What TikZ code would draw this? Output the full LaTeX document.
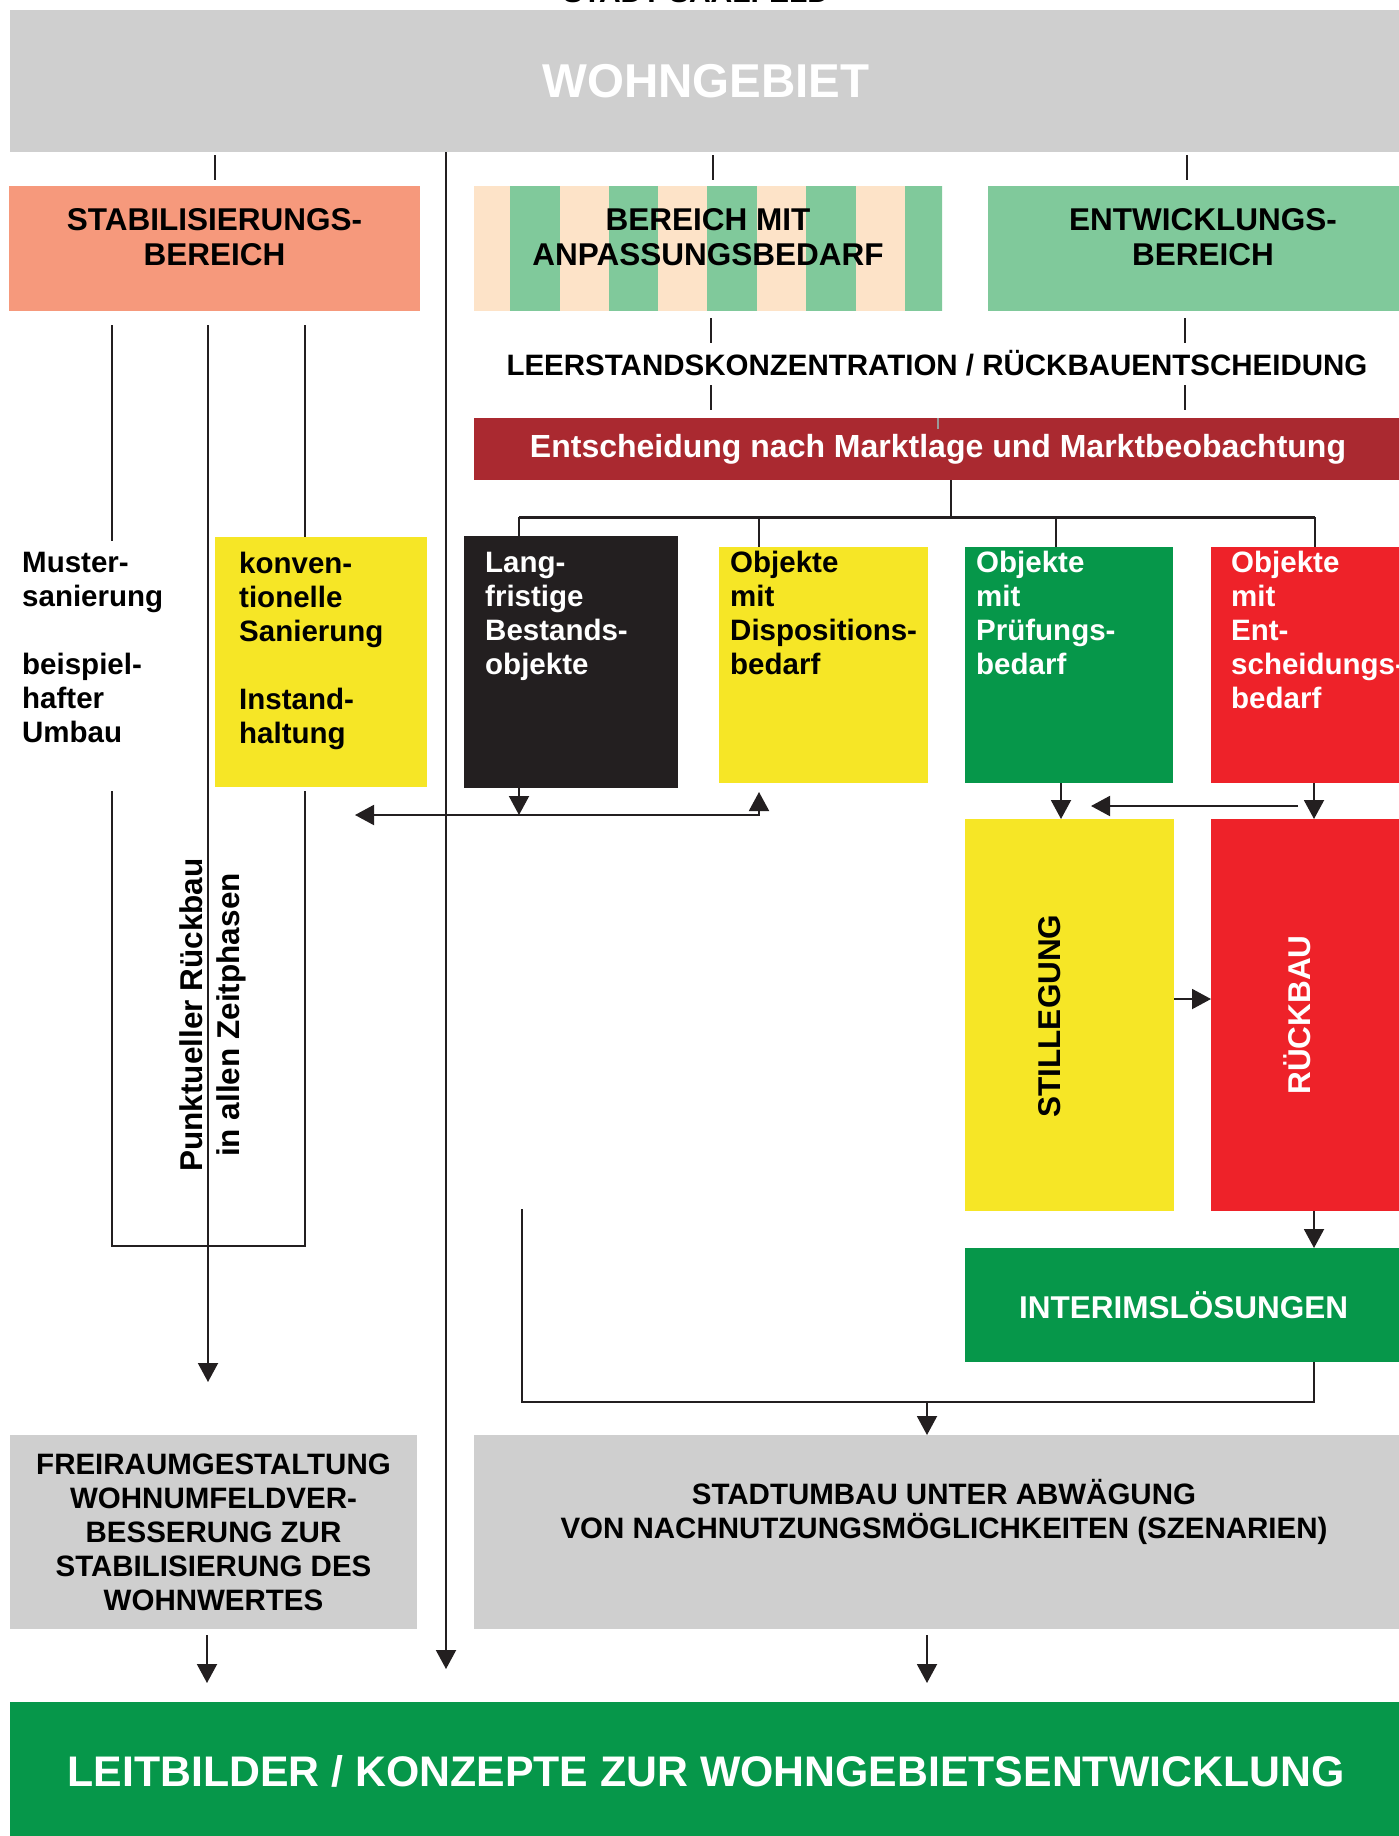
\documentclass[tikz,border=0pt]{standalone}
\usepackage{fontspec}
\setmainfont{Liberation Sans}
\usepackage{tikz}
\usetikzlibrary{arrows.meta,positioning}
\definecolor{panelgrey}{HTML}{CFCFCF}
\definecolor{salmonbrand}{HTML}{F6997C}
\definecolor{peachbrand}{HTML}{FDE3C8}
\definecolor{mintbrand}{HTML}{80C99B}
\definecolor{winebrand}{HTML}{AA2930}
\definecolor{lemonbrand}{HTML}{F6E626}
\definecolor{forestbrand}{HTML}{06974A}
\definecolor{signalred}{HTML}{EE2229}
\definecolor{inkbrand}{HTML}{231F20}

\begin{document}
\begin{tikzpicture}[
  x=1pt, y=1pt,
  font=\bfseries,
  panel/.style={inner sep=0pt, outer sep=0pt, align=center},
  headfont/.style={font=\fontsize{31.5}{35}\selectfont\bfseries},
  bodyfont/.style={font=\fontsize{29.5}{34}\selectfont\bfseries},
  bodytext/.style={bodyfont, inner sep=0pt, anchor=north west, align=left},
  upright/.style={font=\fontsize{31.5}{37}\selectfont\bfseries, inner sep=0pt,
    rotate=90, align=center},
  link/.style={draw=inkbrand, line width=2pt},
  flow/.style={link, -{Triangle[length=19pt, width=20pt]}},
  stub/.style={link, shorten <=3pt, shorten >=6pt}
]
\useasboundingbox (0,0) rectangle (1398,-1836);

% top band
\node[anchor=base, inner sep=0pt, font=\fontsize{30}{34}\selectfont\bfseries] (stadtname) at (696,-3) {STADT SAALFELD};
\node[panel, fill=panelgrey, minimum width=1392pt, minimum height=142pt, text=white,
  font=\fontsize{47.5}{50}\selectfont\bfseries] (wohn) at (706,-81) {WOHNGEBIET};

% three areas
\node[panel, fill=salmonbrand, minimum width=411pt, minimum height=125pt] (stab) at (214.5,-248.5) {};
\node[panel, fill=peachbrand, minimum width=468pt, minimum height=125pt, right=54pt of stab,
  path picture={\foreach \k in {0,...,4}
    \fill[mintbrand] ([xshift={36pt+\k*98.7pt}]path picture bounding box.north west) rectangle ++(49.5,-125);}] (anp) {};
\node[panel, fill=mintbrand, minimum width=414pt, minimum height=125pt, right=46pt of anp] (entw) {};
\node[panel, headfont] (stabtext) at ([yshift=11pt]stab.center) {STABILISIERUNGS-\\BEREICH};
\node[panel, headfont] (anptext) at ([yshift=11pt]anp.center) {BEREICH MIT\\ANPASSUNGSBEDARF};
\node[panel, headfont] (entwtext) at ([xshift=8pt,yshift=11pt]entw.center) {ENTWICKLUNGS-\\BEREICH};

\node[panel, bodyfont] (leer) at (937,-363) {LEERSTANDSKONZENTRATION / RÜCKBAUENTSCHEIDUNG};
\node[panel, fill=winebrand, text=white, minimum width=928pt, minimum height=62pt,
  font=\fontsize{32}{36}\selectfont\bfseries] (markt) at (938,-449) {Entscheidung nach Marktlage und Marktbeobachtung};

% object groups
\node[bodytext] (muster) at (22,-552) {Muster-\\sanierung\\[34pt]beispiel-\\hafter\\Umbau};
\node[panel, fill=lemonbrand, minimum width=212pt, minimum height=250pt] (konv) at (321,-662) {};
\node[bodytext] (konvtext) at (239,-552) {konven-\\tionelle\\Sanierung\\[34pt]Instand-\\haltung};
\node[panel, fill=inkbrand, minimum width=214pt, minimum height=252pt] (lang) at (571,-662) {};
\node[bodytext, text=white] (langtext) at (485,-552) {Lang-\\fristige\\Bestands-\\objekte};
\node[panel, fill=lemonbrand, minimum width=209pt, minimum height=236pt] (disp) at (823.5,-665) {};
\node[panel, fill=forestbrand, minimum width=208pt, minimum height=236pt, right=37pt of disp] (pruef) {};
\node[panel, fill=signalred, minimum width=191pt, minimum height=236pt, right=38pt of pruef] (ents) {};
\node[bodytext] (disptext) at (730,-551) {Objekte\\mit\\Dispositions-\\bedarf};
\node[bodytext, text=white] (prueftext) at (976,-551) {Objekte\\mit\\Prüfungs-\\bedarf};
\node[bodytext, text=white] (entstext) at (1231,-551) {Objekte\\mit\\Ent-\\scheidungs-\\bedarf};

% measures
\node[panel, fill=lemonbrand, minimum width=209pt, minimum height=392pt] (still) at (1069.5,-1015) {};
\node[panel, fill=signalred, minimum width=191pt, minimum height=392pt, right=37pt of still] (rueck) {};
\node[upright] (stilltext) at (1050,-1016) {STILLEGUNG};
\node[upright, text=white] (rueckdtext) at (1297,-1015) {RÜCKBAU};
\node[upright] (punkt) at (213,-1015) {Punktueller Rückbau\\in allen Zeitphasen};
\node[panel, fill=forestbrand, text=white, minimum width=437pt, minimum height=114pt,
  font=\fontsize{31.5}{35}\selectfont\bfseries] (inter) at (1183.5,-1305) {INTERIMSLÖSUNGEN};

% results
\node[panel, fill=panelgrey, bodyfont, minimum width=407pt, minimum height=194pt] (frei) at (213.5,-1532)
  {FREIRAUMGESTALTUNG\\WOHNUMFELDVER-\\BESSERUNG ZUR\\STABILISIERUNG DES\\WOHNWERTES};
\node[panel, fill=panelgrey, minimum width=928pt, minimum height=194pt] (stadt) at (938,-1532) {};
\node[panel, bodyfont] (stadttext) at (944,-1512) {STADTUMBAU UNTER ABWÄGUNG\\VON NACHNUTZUNGSMÖGLICHKEITEN (SZENARIEN)};
\node[panel, fill=forestbrand, text=white, minimum width=1392pt, minimum height=138pt,
  font=\fontsize{42.8}{46}\selectfont\bfseries] (leit) at (706,-1771) {LEITBILDER / KONZEPTE ZUR WOHNGEBIETSENTWICKLUNG};

\coordinate (colA) at (112,0);
\coordinate (colB) at (208,0);
\coordinate (colC) at (305,0);
\coordinate (trunk) at (446,0);
\coordinate (bar) at (0,-517);
\coordinate (hline) at (355,-815);
\coordinate (ubase) at (0,-1246);
\coordinate (brk) at (522,-1209);
\coordinate (brkbase) at (0,-1402);

% connectors
\foreach \n/\dx in {stab/0, anp/5, entw/-8}
  \draw[stub] ([xshift=\dx pt]wohn.south -| \n.north) -- ([xshift=\dx pt]\n.north);
\draw[flow, shorten >=33pt] (wohn.south -| trunk) -- (trunk |- leit.north);
\foreach \n/\dx in {anp/3, entw/-10} {
  \draw[link, shorten <=7pt, shorten >=20pt] ([xshift=\dx pt]\n.south) -- ([xshift=\dx pt]\n.south |- leer.center);
  \draw[link, shorten <=22pt, shorten >=8pt] ([xshift=\dx pt]\n.south |- leer.center) -- ([xshift=\dx pt]\n.south |- markt.north);
}
\draw[draw=black!40, line width=1.2pt] (markt.north) -- ++(0,-11);
\draw[link] ([xshift=13pt]markt.south) -- ([xshift=13pt]markt.south |- bar);
\draw[link, line width=3pt] ([xshift=-52pt]lang.north |- bar) -- ([xshift=8.5pt]ents.north |- bar);
\foreach \n/\dx in {lang/-52, disp/-64.5, pruef/-13, ents/8.5}
  \draw[link] ([xshift=\dx pt]\n.north |- bar) -- ([xshift=\dx pt]\n.north);

\draw[link, shorten <=14pt, shorten >=11pt] (stab.south -| colA) -- (colA |- muster.north);
\draw[flow, shorten <=14pt, shorten >=53pt] (stab.south -| colB) -- (colB |- frei.north);
\draw[link, shorten <=14pt] (stab.south -| colC) -- (colC |- konv.north);
\draw[link] ([yshift=-4pt]konv.south -| colA) -- (colA |- ubase) -| ([yshift=-4pt]konv.south -| colC);

\draw[flow] ([xshift=-52pt]lang.south) -- ([xshift=-52pt]lang.south |- hline);
\draw[link, {Triangle[length=19pt, width=20pt]}-{Triangle[length=19pt, width=20pt]}, shorten >=9pt]
  (hline) -| ([xshift=-64.5pt]disp.south);
\draw[flow] ([xshift=-8pt]pruef.south) -- ([xshift=-8pt]pruef.south |- still.north);
\draw[flow] ([xshift=7.5pt]ents.south) -- ([xshift=7.5pt]ents.south |- rueck.north);
\draw[flow] ([shift={(87,13)}]rueck.north west) -- ([shift={(-83,13)}]still.north east);
\draw[flow] ([yshift=16pt]still.east) -- ([yshift=16pt]rueck.west);
\draw[flow] ([xshift=7.5pt]rueck.south) -- ([xshift=7.5pt]rueck.south |- inter.north);
\draw[link] ([xshift=130.5pt]inter.south) -- ([xshift=130.5pt]inter.south |- brkbase) -| (brk);
\draw[flow] ([xshift=-11pt]stadt.north |- brkbase) -- ([xshift=-11pt]stadt.north);
\draw[flow, shorten <=6pt, shorten >=19pt] ([xshift=-6.5pt]frei.south) -- ([xshift=-6.5pt]frei.south |- leit.north);
\draw[flow, shorten <=6pt, shorten >=19pt] ([xshift=-11pt]stadt.south) -- ([xshift=-11pt]stadt.south |- leit.north);
\end{tikzpicture}
\end{document}
